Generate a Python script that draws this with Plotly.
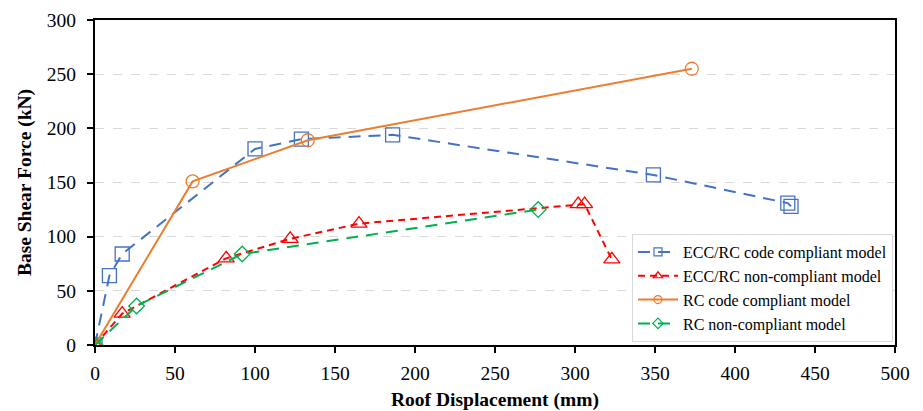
import plotly.graph_objects as go

ecc_code_x = [0, 9, 17, 100, 129, 186, 349, 433, 435]
ecc_code_y = [0, 64, 84, 181, 190, 194, 157, 131, 128]
ecc_non_x = [0, 17, 82, 122, 165, 302, 306, 323]
ecc_non_y = [0, 29, 80, 98, 112, 130, 130, 79]
rc_code_x = [0, 61, 133, 373]
rc_code_y = [0, 151, 189, 255]
rc_non_x = [0, 26, 92, 277]
rc_non_y = [0, 36, 84, 125]

series = [
    ("ECC/RC code compliant model", ecc_code_x, ecc_code_y, "#4472C4", "12px,8px", "square-open", 14, 8),
    ("ECC/RC non-compliant model", ecc_non_x, ecc_non_y, "#FF0000", "7px,5px", "triangle-up-open", 14, 8),
    ("RC code compliant model", rc_code_x, rc_code_y, "#ED7D31", "solid", "circle-open", 13, 8),
    ("RC non-compliant model", rc_non_x, rc_non_y, "#00B050", "12px,8px", "diamond-open", 12, 8),
]

font = "Liberation Serif, Times New Roman, serif"
fig = go.Figure()
for name, xs, ys, col, dash, sym, ms, lms in series:
    fig.add_trace(go.Scatter(x=xs, y=ys, mode="lines+markers", name=name, showlegend=False,
        line=dict(color=col, width=2, dash=dash),
        marker=dict(symbol=sym, size=ms, color=col, line=dict(width=1.3, color=col))))
for name, xs, ys, col, dash, sym, ms, lms in series:
    fig.add_trace(go.Scatter(x=[None], y=[None], mode="lines+markers", name=name, showlegend=True,
        line=dict(color=col, width=2, dash=dash),
        marker=dict(symbol=sym, size=lms, color=col, line=dict(width=1.2, color=col))))

axis_common = dict(zeroline=False, showline=True, linecolor="black", linewidth=2, mirror=True,
                   ticks="outside", ticklen=6, tickwidth=1.5, tickcolor="black",
                   tickfont=dict(family=font, size=19.5, color="black"), automargin=False)

fig.update_layout(
    width=923, height=411,
    margin=dict(l=87, r=36, t=12, b=74),
    paper_bgcolor="white", plot_bgcolor="white",
    font=dict(family=font, size=17, color="black"),
    showlegend=True,
    legend=dict(x=0.9975, y=0.009, xanchor="right", yanchor="bottom",
                bgcolor="white", bordercolor="#D9D9D9", borderwidth=1,
                font=dict(family=font, size=16, color="black"), tracegroupgap=0,
                itemwidth=40),
    xaxis=dict(range=[0, 500], dtick=50, showgrid=False, ticklabelstandoff=4,
               title=dict(text="<b>Roof Displacement (mm)</b>", font=dict(family=font, size=19.5), standoff=9),
               **axis_common),
    yaxis=dict(range=[0, 300], dtick=50, showgrid=True, gridcolor="#D9D9D9",
               griddash="dash", gridwidth=1, ticklabelstandoff=7,
               title=dict(text="<b>Base Shear Force (kN)</b>", font=dict(family=font, size=19.5), standoff=10),
               **axis_common),
)
fig.write_html("out.html")
